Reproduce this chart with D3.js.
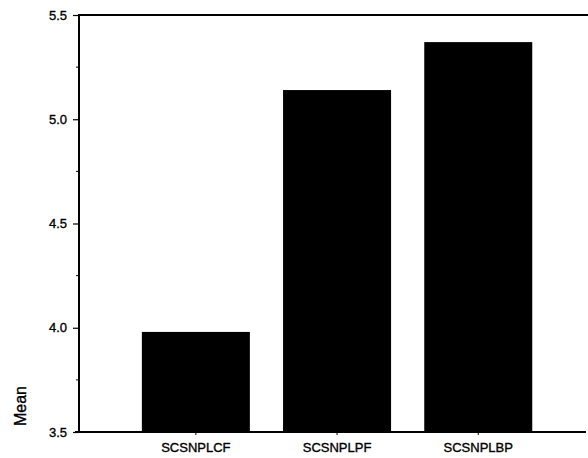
<!DOCTYPE html>
<html>
<head>
<meta charset="utf-8">
<script src="https://cdn.jsdelivr.net/npm/d3@7"></script>
<style>
  html, body { margin: 0; padding: 0; background: #fff; }
  svg { display: block; }
  text { font-family: "Liberation Sans", Arial, Helvetica, sans-serif; fill: #000; stroke: #000; stroke-width: 0.35px; }
</style>
</head>
<body>
<svg id="chart" width="588" height="458"></svg>
<script>
// Mean score for each variable
const categories = ["SCSNPLCF", "SCSNPLPF", "SCSNPLBP"];
const means = [3.98, 5.14, 5.37];
const yTicks = [3.5, 4.0, 4.5, 5.0, 5.5];
const yMinorTicks = [3.75, 4.25, 4.75, 5.25];

const svg = d3.select("#chart");
const plotLeft = 79, plotRight = 588, plotTop = 15, plotBottom = 432;

const x = d3.scaleBand()
  .domain(categories)
  .range([plotLeft, plotRight])
  .paddingInner(0.235)
  .paddingOuter(0.42)
  .align(0.53);

const y = d3.scaleLinear()
  .domain([3.5, 5.5])
  .range([plotBottom, plotTop]);

// bars
svg.append("g")
  .selectAll("rect")
  .data(categories)
  .join("rect")
  .attr("x", d => x(d))
  .attr("width", x.bandwidth())
  .attr("y", (d, i) => y(means[i]))
  .attr("height", (d, i) => y(3.5) - y(means[i]))
  .attr("fill", "#000");

// frame lines: top and bottom
svg.append("line")
  .attr("x1", plotLeft).attr("x2", plotRight)
  .attr("y1", plotTop).attr("y2", plotTop)
  .attr("stroke", "#000").attr("stroke-width", 2);
svg.append("line")
  .attr("x1", 75).attr("x2", 586)
  .attr("y1", plotBottom).attr("y2", plotBottom)
  .attr("stroke", "#000").attr("stroke-width", 2);

// y axis
const yAxis = d3.axisLeft(y)
  .tickValues(yTicks)
  .tickFormat(d3.format(".1f"))
  .tickSize(6)
  .tickPadding(6);
const gy = svg.append("g")
  .attr("transform", `translate(${plotLeft},0)`)
  .call(yAxis);
gy.select(".domain").attr("stroke-width", 2).attr("d", `M0,${plotTop - 1}V${plotBottom + 1}`);
gy.selectAll(".tick line").attr("stroke-width", 1.2);
gy.selectAll(".tick text")
  .style("font-family", "'Liberation Sans', Arial, sans-serif")
  .style("font-size", "13px")
  .attr("x", -12);

// y minor ticks
svg.append("g")
  .selectAll("line")
  .data(yMinorTicks)
  .join("line")
  .attr("x1", plotLeft - 3).attr("x2", plotLeft)
  .attr("y1", d => y(d)).attr("y2", d => y(d))
  .attr("stroke", "#000").attr("stroke-width", 1);

// x axis ticks and labels
const xAxis = d3.axisBottom(x)
  .tickSize(3)
  .tickPadding(8);
const gx = svg.append("g")
  .attr("transform", `translate(0,${plotBottom})`)
  .call(xAxis);
gx.select(".domain").remove();
gx.selectAll(".tick text")
  .style("font-family", "'Liberation Sans', Arial, sans-serif")
  .style("font-size", "13px");

// y axis title
svg.append("text")
  .attr("transform", "translate(26,406) rotate(-90)")
  .attr("text-anchor", "middle")
  .style("font-size", "16px")
  .text("Mean");
</script>
</body>
</html>
